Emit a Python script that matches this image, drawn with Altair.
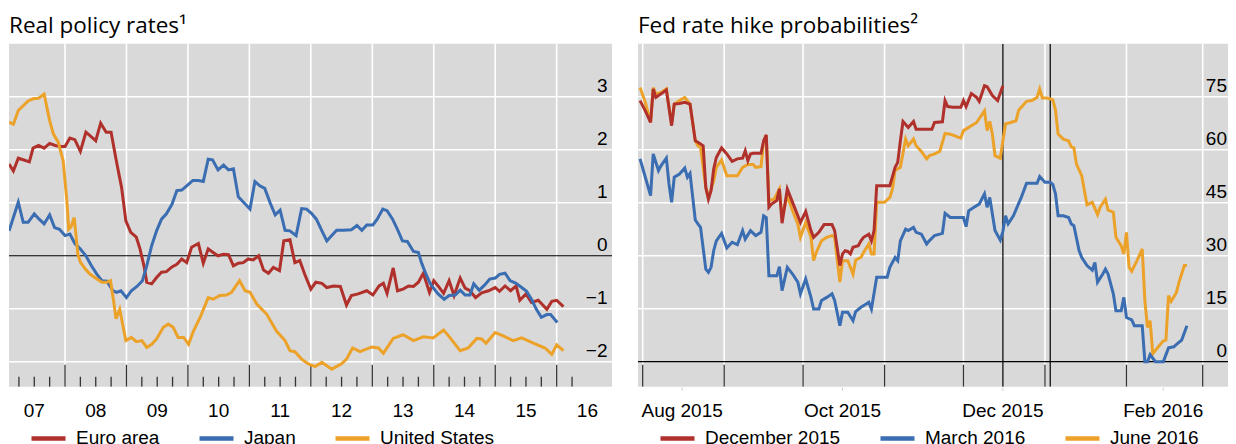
import altair as alt
import pandas as pd

# ---------------- common styling ----------------
RED, BLUE, GOLD = "#b0302b", "#3a6db1", "#eca229"
BG = "#d9d9d9"
LABEL_FONT = "Liberation Sans"
TITLE_FONT = "Open Sans"
W_L, W_R, H = 603, 590, 343

# ---------------- Left panel: real policy rates (%) ----------------
ea_t = [2007.09, 2007.16, 2007.24, 2007.32, 2007.42, 2007.48, 2007.57, 2007.66, 2007.75, 2007.84,
        2007.92, 2008.00, 2008.08, 2008.16, 2008.25, 2008.34, 2008.42, 2008.50, 2008.58, 2008.67,
        2008.75, 2008.83, 2008.92, 2008.99, 2009.07, 2009.16, 2009.22, 2009.29, 2009.33, 2009.41,
        2009.49, 2009.57, 2009.65, 2009.74, 2009.82, 2009.90, 2009.98, 2010.06, 2010.17, 2010.25,
        2010.33, 2010.41, 2010.49, 2010.58, 2010.66, 2010.74, 2010.82, 2010.90, 2010.98, 2011.06,
        2011.15, 2011.23, 2011.31, 2011.39, 2011.49, 2011.56, 2011.66, 2011.74, 2011.82, 2011.90,
        2012.00, 2012.08, 2012.18, 2012.26, 2012.37, 2012.48, 2012.58, 2012.66, 2012.77, 2012.91,
        2013.01, 2013.11, 2013.18, 2013.24, 2013.34, 2013.41, 2013.50, 2013.59, 2013.67, 2013.75,
        2013.83, 2013.93, 2014.00, 2014.07, 2014.16, 2014.25, 2014.33, 2014.43, 2014.51, 2014.59,
        2014.68, 2014.78, 2014.89, 2015.00, 2015.07, 2015.16, 2015.25, 2015.34, 2015.40, 2015.50,
        2015.59, 2015.70, 2015.84, 2015.92, 2016.00, 2016.11]
ea_v = [1.73, 1.60, 1.84, 1.81, 1.77, 2.03, 2.08, 2.03, 2.12, 2.08,
        2.06, 2.06, 2.22, 2.19, 1.97, 2.33, 2.25, 2.17, 2.50, 2.33,
        2.33, 1.82, 1.29, 0.66, 0.44, 0.35, 0.13, -0.22, -0.50, -0.53,
        -0.41, -0.31, -0.30, -0.21, -0.16, -0.06, -0.13, 0.16, 0.23, -0.14,
        0.13, 0.06, 0.00, 0.03, 0.02, -0.19, -0.14, -0.13, -0.06, -0.08,
        0.00, -0.27, -0.33, -0.22, -0.28, 0.28, 0.30, -0.13, -0.09, -0.35,
        -0.63, -0.50, -0.52, -0.60, -0.57, -0.58, -0.93, -0.75, -0.72, -0.66,
        -0.74, -0.57, -0.52, -0.71, -0.23, -0.66, -0.63, -0.57, -0.58, -0.50,
        -0.33, -0.69, -0.47, -0.57, -0.71, -0.47, -0.75, -0.42, -0.61, -0.66,
        -0.79, -0.70, -0.66, -0.60, -0.67, -0.57, -0.66, -0.57, -0.84, -0.72,
        -0.88, -0.84, -1.01, -0.86, -0.84, -0.96]

jp_t = [2007.09, 2007.16, 2007.24, 2007.32, 2007.40, 2007.50, 2007.58, 2007.66, 2007.75, 2007.83,
        2007.91, 2008.00, 2008.08, 2008.16, 2008.24, 2008.34, 2008.43, 2008.52, 2008.60, 2008.68,
        2008.78, 2008.84, 2008.91, 2009.00, 2009.08, 2009.17, 2009.26, 2009.33, 2009.41, 2009.49,
        2009.57, 2009.65, 2009.74, 2009.82, 2009.90, 2009.98, 2010.08, 2010.17, 2010.25, 2010.33,
        2010.40, 2010.49, 2010.58, 2010.66, 2010.74, 2010.82, 2010.92, 2011.01, 2011.09, 2011.17,
        2011.25, 2011.34, 2011.42, 2011.50, 2011.58, 2011.66, 2011.76, 2011.85, 2011.93, 2012.01,
        2012.09, 2012.18, 2012.26, 2012.34, 2012.42, 2012.53, 2012.66, 2012.75, 2012.83, 2012.91,
        2013.01, 2013.08, 2013.17, 2013.24, 2013.33, 2013.42, 2013.49, 2013.57, 2013.67, 2013.75,
        2013.80, 2013.86, 2013.94, 2013.99, 2014.07, 2014.17, 2014.25, 2014.35, 2014.43, 2014.51,
        2014.59, 2014.65, 2014.74, 2014.83, 2014.91, 2015.00, 2015.07, 2015.16, 2015.24, 2015.34,
        2015.43, 2015.51, 2015.59, 2015.67, 2015.75, 2015.84, 2015.90, 2016.01]
jp_v = [0.47, 0.72, 1.01, 0.63, 0.63, 0.79, 0.69, 0.60, 0.77, 0.53,
        0.50, 0.38, 0.41, 0.23, 0.14, 0.00, -0.19, -0.35, -0.47, -0.48,
        -0.66, -0.69, -0.66, -0.79, -0.66, -0.58, -0.47, -0.19, 0.19, 0.47,
        0.69, 0.79, 0.97, 1.23, 1.24, 1.32, 1.42, 1.42, 1.40, 1.82,
        1.81, 1.62, 1.71, 1.62, 1.64, 1.11, 0.99, 0.88, 1.40, 1.32,
        1.27, 0.99, 0.77, 0.86, 0.48, 0.47, 0.38, 0.89, 0.88, 0.80,
        0.69, 0.47, 0.28, 0.38, 0.48, 0.48, 0.49, 0.57, 0.48, 0.58,
        0.58, 0.69, 0.88, 0.85, 0.69, 0.47, 0.28, 0.27, 0.08, 0.06,
        -0.13, -0.31, -0.52, -0.60, -0.72, -0.82, -0.75, -0.74, -0.65, -0.74,
        -0.74, -0.53, -0.65, -0.55, -0.44, -0.42, -0.35, -0.33, -0.47, -0.52,
        -0.60, -0.67, -0.82, -1.01, -1.16, -1.11, -1.11, -1.26]

us_t = [2007.09, 2007.16, 2007.24, 2007.32, 2007.40, 2007.48, 2007.57, 2007.66, 2007.75, 2007.81,
        2007.89, 2007.97, 2008.03, 2008.06, 2008.10, 2008.15, 2008.21, 2008.25, 2008.33, 2008.41,
        2008.52, 2008.60, 2008.68, 2008.74, 2008.79, 2008.83, 2008.89, 2008.99, 2009.08, 2009.16,
        2009.25, 2009.33, 2009.41, 2009.49, 2009.60, 2009.68, 2009.76, 2009.84, 2009.93, 2010.01,
        2010.09, 2010.20, 2010.33, 2010.41, 2010.52, 2010.63, 2010.71, 2010.84, 2010.93, 2011.01,
        2011.12, 2011.28, 2011.44, 2011.58, 2011.66, 2011.74, 2011.85, 2011.96, 2012.07, 2012.18,
        2012.34, 2012.50, 2012.58, 2012.68, 2012.80, 2012.99, 2013.10, 2013.18, 2013.34, 2013.50,
        2013.67, 2013.83, 2013.99, 2014.16, 2014.26, 2014.43, 2014.56, 2014.70, 2014.78, 2014.85,
        2015.00, 2015.13, 2015.29, 2015.43, 2015.62, 2015.81, 2015.92, 2016.00, 2016.11]
us_v = [2.52, 2.48, 2.74, 2.83, 2.92, 2.96, 2.97, 3.05, 2.55, 2.30,
        2.14, 1.79, 1.04, 0.50, 0.55, 0.72, 0.02, -0.12, -0.25, -0.35,
        -0.44, -0.50, -0.50, -0.47, -0.85, -1.19, -1.01, -1.60, -1.54, -1.62,
        -1.60, -1.73, -1.67, -1.57, -1.35, -1.29, -1.35, -1.54, -1.54, -1.67,
        -1.42, -1.16, -0.79, -0.82, -0.75, -0.74, -0.69, -0.47, -0.66, -0.69,
        -0.91, -1.10, -1.42, -1.60, -1.79, -1.81, -1.95, -2.04, -2.09, -2.01,
        -2.14, -2.04, -1.95, -1.74, -1.81, -1.72, -1.74, -1.84, -1.56, -1.49,
        -1.60, -1.53, -1.55, -1.40, -1.54, -1.79, -1.74, -1.56, -1.57, -1.65,
        -1.45, -1.51, -1.60, -1.55, -1.65, -1.74, -1.86, -1.68, -1.79]

left_title = "Real policy rates¹"
left_names = ["Euro area", "Japan", "United States"]
left_colors = [RED, BLUE, GOLD]
left_yticks = [-2, -1, 0, 1, 2, 3]
left_ylabels = ["\u22122", "\u22121", "0", "1", "2", "3"]
left_year_starts = [2008, 2009, 2010, 2011, 2012, 2013, 2014, 2015, 2016]
left_quarters = [2007.25, 2007.5, 2007.75, 2008.25, 2008.5, 2008.75, 2009.25, 2009.5, 2009.75,
                 2010.25, 2010.5, 2010.75, 2011.25, 2011.5, 2011.75, 2012.25, 2012.5, 2012.75,
                 2013.25, 2013.5, 2013.75, 2014.25, 2014.5, 2014.75, 2015.25, 2015.5, 2015.75,
                 2016.25]
left_label_pos = [2007.5, 2008.5, 2009.5, 2010.5, 2011.5, 2012.5, 2013.5, 2014.5, 2015.5, 2016.5]
left_xlabels = ["07", "08", "09", "10", "11", "12", "13", "14", "15", "16"]

# ---------------- Right panel: Fed rate hike probabilities (%) ----------------
dec_d = ["2015-07-31", "2015-08-02", "2015-08-04", "2015-08-05", "2015-08-06", "2015-08-08",
         "2015-08-10", "2015-08-12", "2015-08-13", "2015-08-15", "2015-08-17", "2015-08-19",
         "2015-08-21", "2015-08-22", "2015-08-24", "2015-08-25", "2015-08-26", "2015-08-27",
         "2015-08-28", "2015-08-29", "2015-08-31", "2015-09-02", "2015-09-04", "2015-09-06",
         "2015-09-08", "2015-09-09", "2015-09-10", "2015-09-11", "2015-09-12", "2015-09-15",
         "2015-09-16", "2015-09-17", "2015-09-18", "2015-09-19", "2015-09-21", "2015-09-22",
         "2015-09-23", "2015-09-25", "2015-09-27", "2015-09-29", "2015-09-30", "2015-10-02",
         "2015-10-04", "2015-10-05", "2015-10-07", "2015-10-09", "2015-10-10", "2015-10-12",
         "2015-10-13", "2015-10-15", "2015-10-16", "2015-10-17", "2015-10-18", "2015-10-19",
         "2015-10-20", "2015-10-22", "2015-10-23", "2015-10-24", "2015-10-26", "2015-10-27",
         "2015-10-28", "2015-10-29", "2015-11-01", "2015-11-03", "2015-11-05", "2015-11-06",
         "2015-11-07", "2015-11-08", "2015-11-10", "2015-11-12", "2015-11-13", "2015-11-15",
         "2015-11-19", "2015-11-20", "2015-11-23", "2015-11-24", "2015-11-25", "2015-11-27",
         "2015-11-30", "2015-12-01", "2015-12-02", "2015-12-04", "2015-12-06", "2015-12-07",
         "2015-12-09", "2015-12-10", "2015-12-12", "2015-12-14", "2015-12-16"]
dec_v = [73.9, 71.0, 67.7, 77.2, 74.8, 75.8, 76.9, 66.8, 72.9, 73.1, 73.4, 72.9,
         62.5, 62.1, 61.1, 49.3, 46.0, 48.4, 54.5, 57.8, 60.5, 58.8, 56.7, 57.4,
         57.6, 59.7, 56.9, 58.8, 59.0, 59.0, 62.5, 64.2, 43.7, 44.6, 45.6, 48.9,
         39.2, 48.9, 45.1, 41.3, 39.4, 42.5, 37.1, 35.2, 36.6, 38.8, 38.8, 38.8,
         37.1, 27.2, 30.5, 31.4, 31.2, 30.5, 32.4, 32.8, 34.2, 35.2, 36.1, 34.2,
         37.1, 49.8, 49.8, 49.8, 55.0, 56.4, 62.5, 68.0, 66.3, 68.0, 65.8, 65.8,
         65.8, 67.7, 67.9, 73.9, 72.2, 72.0, 72.0, 73.9, 72.2, 75.9, 74.8, 73.7,
         78.1, 77.8, 75.3, 73.9, 78.1]

mar_d = ["2015-07-31", "2015-08-02", "2015-08-04", "2015-08-05", "2015-08-07", "2015-08-08",
         "2015-08-10", "2015-08-11", "2015-08-12", "2015-08-13", "2015-08-15", "2015-08-17",
         "2015-08-18", "2015-08-19", "2015-08-21", "2015-08-22", "2015-08-23", "2015-08-25",
         "2015-08-26", "2015-08-27", "2015-08-28", "2015-08-29", "2015-08-31", "2015-09-02",
         "2015-09-04", "2015-09-06", "2015-09-08", "2015-09-09", "2015-09-11", "2015-09-13",
         "2015-09-15", "2015-09-16", "2015-09-17", "2015-09-18", "2015-09-19", "2015-09-21",
         "2015-09-22", "2015-09-23", "2015-09-25", "2015-09-27", "2015-09-29", "2015-09-30",
         "2015-10-02", "2015-10-04", "2015-10-05", "2015-10-07", "2015-10-08", "2015-10-10",
         "2015-10-12", "2015-10-13", "2015-10-15", "2015-10-16", "2015-10-18", "2015-10-20",
         "2015-10-21", "2015-10-23", "2015-10-25", "2015-10-26", "2015-10-27", "2015-10-29",
         "2015-10-30", "2015-11-02", "2015-11-03", "2015-11-05", "2015-11-06", "2015-11-07",
         "2015-11-09", "2015-11-10", "2015-11-12", "2015-11-13", "2015-11-15", "2015-11-17",
         "2015-11-18", "2015-11-20", "2015-11-23", "2015-11-24", "2015-11-26", "2015-12-01",
         "2015-12-02", "2015-12-03", "2015-12-05", "2015-12-07", "2015-12-09", "2015-12-10",
         "2015-12-11", "2015-12-12", "2015-12-13", "2015-12-15", "2015-12-16", "2015-12-17",
         "2015-12-18", "2015-12-20", "2015-12-22", "2015-12-23", "2015-12-25", "2015-12-27",
         "2015-12-29", "2015-12-30", "2016-01-01", "2016-01-03", "2016-01-04", "2016-01-05",
         "2016-01-06", "2016-01-08", "2016-01-10", "2016-01-11", "2016-01-12", "2016-01-14",
         "2016-01-15", "2016-01-17", "2016-01-19", "2016-01-20", "2016-01-21", "2016-01-23",
         "2016-01-24", "2016-01-25", "2016-01-27", "2016-01-28", "2016-01-30", "2016-01-31",
         "2016-02-01", "2016-02-03", "2016-02-04", "2016-02-07", "2016-02-08", "2016-02-09",
         "2016-02-10", "2016-02-12", "2016-02-15", "2016-02-17", "2016-02-19", "2016-02-21",
         "2016-02-22", "2016-02-24"]
mar_v = [57.4, 52.2, 47.0, 58.8, 54.1, 55.5, 57.6, 50.3, 45.1, 52.2, 53.1, 54.8,
         52.2, 53.3, 40.1, 39.0, 38.0, 26.2, 25.3, 26.7, 31.4, 34.2, 36.3, 32.2,
         33.8, 33.1, 37.1, 34.7, 37.1, 35.7, 36.6, 41.3, 40.8, 24.3, 24.3, 24.3,
         26.9, 20.1, 26.7, 24.8, 22.5, 19.2, 23.4, 18.2, 14.9, 14.9, 17.3, 18.2,
         19.2, 17.3, 10.2, 14.0, 14.0, 11.6, 14.2, 15.4, 16.3, 16.8, 14.9, 23.9,
         23.9, 23.9, 26.7, 29.5, 28.6, 34.2, 37.5, 37.1, 38.0, 36.6, 36.1, 33.3,
         34.2, 35.7, 36.3, 42.0, 40.8, 40.8, 38.2, 42.7, 43.7, 44.6, 47.5, 43.7,
         46.5, 41.8, 37.1, 34.4, 36.9, 41.3, 39.0, 41.3, 44.8, 46.5, 50.5, 50.5,
         50.5, 52.4, 50.8, 50.8, 50.1, 47.5, 41.3, 41.3, 40.8, 39.0, 38.5, 31.4,
         29.5, 27.2, 25.9, 28.1, 22.5, 24.8, 26.2, 24.8, 19.2, 14.4, 14.4, 18.2,
         12.5, 11.8, 10.2, 10.2, 0.0, 0.0, 2.0, 0.0, 0.0, 3.9, 4.2, 5.5,
         6.1, 10.2]

jun_d = ["2015-07-31", "2015-08-02", "2015-08-04", "2015-08-05", "2015-08-06", "2015-08-08",
         "2015-08-10", "2015-08-12", "2015-08-13", "2015-08-15", "2015-08-17", "2015-08-19",
         "2015-08-21", "2015-08-22", "2015-08-23", "2015-08-25", "2015-08-26", "2015-08-28",
         "2015-08-29", "2015-08-31", "2015-09-02", "2015-09-04", "2015-09-06", "2015-09-08",
         "2015-09-10", "2015-09-12", "2015-09-13", "2015-09-15", "2015-09-16", "2015-09-17",
         "2015-09-18", "2015-09-20", "2015-09-22", "2015-09-23", "2015-09-25", "2015-09-27",
         "2015-09-29", "2015-09-30", "2015-10-02", "2015-10-04", "2015-10-05", "2015-10-06",
         "2015-10-08", "2015-10-10", "2015-10-12", "2015-10-13", "2015-10-15", "2015-10-16",
         "2015-10-18", "2015-10-20", "2015-10-21", "2015-10-23", "2015-10-24", "2015-10-26",
         "2015-10-27", "2015-10-28", "2015-10-29", "2015-11-01", "2015-11-03", "2015-11-04",
         "2015-11-05", "2015-11-07", "2015-11-09", "2015-11-10", "2015-11-12", "2015-11-13",
         "2015-11-15", "2015-11-17", "2015-11-18", "2015-11-20", "2015-11-22", "2015-11-24",
         "2015-11-26", "2015-11-30", "2015-12-01", "2015-12-04", "2015-12-06", "2015-12-09",
         "2015-12-10", "2015-12-11", "2015-12-12", "2015-12-13", "2015-12-15", "2015-12-16",
         "2015-12-17", "2015-12-19", "2015-12-21", "2015-12-22", "2015-12-23", "2015-12-25",
         "2015-12-27", "2015-12-29", "2015-12-30", "2015-12-31", "2016-01-02", "2016-01-04",
         "2016-01-05", "2016-01-06", "2016-01-08", "2016-01-10", "2016-01-11", "2016-01-12",
         "2016-01-13", "2016-01-15", "2016-01-16", "2016-01-17", "2016-01-19", "2016-01-21",
         "2016-01-22", "2016-01-24", "2016-01-25", "2016-01-27", "2016-01-28", "2016-01-30",
         "2016-01-31", "2016-02-01", "2016-02-02", "2016-02-03", "2016-02-05", "2016-02-07",
         "2016-02-08", "2016-02-09", "2016-02-10", "2016-02-11", "2016-02-13", "2016-02-15",
         "2016-02-16", "2016-02-17", "2016-02-18", "2016-02-20", "2016-02-21", "2016-02-23",
         "2016-02-24"]
jun_v = [77.6, 73.4, 67.7, 77.6, 75.8, 76.2, 77.2, 67.3, 72.9, 73.9, 74.8, 72.9,
         62.5, 61.1, 60.7, 49.3, 46.5, 51.2, 55.0, 57.1, 52.6, 52.6, 52.6, 55.0,
         55.8, 55.8, 55.0, 55.2, 62.5, 64.0, 45.6, 46.0, 48.9, 40.8, 47.0, 42.7,
         39.0, 35.2, 39.4, 35.2, 28.6, 30.9, 34.2, 35.2, 35.7, 35.2, 22.5, 28.6,
         28.6, 24.8, 28.8, 29.5, 30.9, 33.3, 30.5, 30.5, 45.1, 45.1, 46.5, 48.9,
         54.1, 55.0, 63.0, 61.1, 63.0, 61.1, 59.5, 57.4, 58.3, 58.8, 59.5, 64.6,
         64.4, 63.3, 65.4, 66.8, 67.7, 71.0, 65.4, 68.0, 64.4, 58.3, 57.6, 62.5,
         67.3, 67.7, 68.2, 71.2, 72.0, 73.7, 73.9, 74.8, 77.2, 74.6, 74.6, 74.1,
         71.2, 64.4, 63.0, 62.5, 60.8, 60.5, 55.9, 52.6, 48.4, 44.4, 45.1, 41.6,
         43.7, 46.0, 42.9, 42.3, 35.2, 32.8, 30.5, 36.6, 26.7, 25.6, 28.6, 31.9,
         17.3, 9.7, 11.6, 2.2, 4.1, 5.9, 6.1, 18.7, 17.1, 19.6, 22.5, 27.2,
         27.2]

right_title = "Fed rate hike probabilities²"
right_names = ["December 2015", "March 2016", "June 2016"]
right_colors = [RED, BLUE, GOLD]
right_yticks = [0, 15, 30, 45, 60, 75]
right_ylabels = ["0", "15", "30", "45", "60", "75"]
month_starts = ["2015-08-01", "2015-09-01", "2015-10-01", "2015-11-01", "2015-12-01",
                "2016-01-01", "2016-02-01", "2016-03-01"]
event_dates = ["2015-12-16", "2016-01-03"]
right_label_dates = ["2015-08-16", "2015-10-16", "2015-12-16", "2016-02-15"]
right_xlabels = ["Aug 2015", "Oct 2015", "Dec 2015", "Feb 2016"]


def dt(s, hours=0, minutes=0):
    y, m, d = (int(p) for p in s.split("-"))
    return alt.DateTime(year=y, month=m, date=d, hours=hours, minutes=minutes, utc=True)


legend_common = dict(orient="none", direction="horizontal", title=None, symbolType="stroke",
                     symbolSize=1156, symbolStrokeWidth=4.5, labelFont=LABEL_FONT,
                     labelFontSize=19, labelColor="black", labelOffset=8, labelLimit=400,
                     columnPadding=30, legendX=20, legendY=375)


def title_layer(text):
    return alt.Chart(pd.DataFrame({"txt": [text]})).mark_text(
        align="left", baseline="alphabetic", font=TITLE_FONT, fontSize=22.5, color="black"
    ).encode(text="txt:N", x=alt.value(0), y=alt.value(-10.6))


def label_text(**kw):
    return dict(font=LABEL_FONT, fontSize=19, color="black", baseline="alphabetic", **kw)


def rule(**kw):
    return dict(clip=True, **kw)


# ---------------- Left chart ----------------
dfL = pd.concat([
    pd.DataFrame({"t": ea_t, "v": ea_v, "s": "Euro area"}),
    pd.DataFrame({"t": jp_t, "v": jp_v, "s": "Japan"}),
    pd.DataFrame({"t": us_t, "v": us_v, "s": "United States"}),
], ignore_index=True)

xL = alt.Scale(domain=[2007.089, 2016.9], nice=False, zero=False)
yL = alt.Scale(domain=[-2.47, 4.0], nice=False, zero=False)
XL = alt.X("t:Q", scale=xL, axis=None)
YL = alt.Y("v:Q", scale=yL, axis=None)
legL = alt.Legend(**legend_common)

hgridL = alt.Chart(pd.DataFrame({"v": [t for t in left_yticks if t != 0]})).mark_rule(
    **rule(color="white", strokeWidth=1.6)).encode(y=YL, x=alt.value(0), x2=alt.value(W_L))
vgridL = alt.Chart(pd.DataFrame({"t": left_year_starts})).mark_rule(
    **rule(color="white", strokeWidth=1.6)).encode(x=XL)
zeroL = alt.Chart(pd.DataFrame({"v": [0]})).mark_rule(**rule(color="black", strokeWidth=1.2)).encode(
    y=YL, x=alt.value(0), x2=alt.value(W_L))
majorL = alt.Chart(pd.DataFrame({"t": left_year_starts})).mark_rule(
    **rule(color="#333333", strokeWidth=1.3)).encode(x=XL, y=alt.value(H - 22), y2=alt.value(H))
minorL = alt.Chart(pd.DataFrame({"t": left_quarters})).mark_rule(
    **rule(color="#333333", strokeWidth=1.3)).encode(x=XL, y=alt.value(H - 10), y2=alt.value(H))
ylabL = alt.Chart(pd.DataFrame({"v": left_yticks, "lab": left_ylabels})).mark_text(
    **label_text(align="right", dy=-5)).encode(y=YL, x=alt.value(W_L - 4.5), text="lab:N")
xlabL = alt.Chart(pd.DataFrame({"t": left_label_pos, "lab": left_xlabels})).mark_text(
    **label_text(align="center")).encode(x=XL, y=alt.value(H + 30.5), text="lab:N")
linesL = alt.Chart(dfL).mark_line(strokeWidth=3, clip=True).encode(
    x=XL, y=YL,
    color=alt.Color("s:N", scale=alt.Scale(domain=left_names, range=left_colors), legend=legL),
)

left = alt.layer(hgridL, vgridL, zeroL, majorL, minorL, ylabL, xlabL, linesL,
                 title_layer(left_title)).properties(width=W_L, height=H)

# ---------------- Right chart ----------------
dfR = pd.concat([
    pd.DataFrame({"d": jun_d, "v": jun_v, "s": "June 2016"}),
    pd.DataFrame({"d": mar_d, "v": mar_v, "s": "March 2016"}),
    pd.DataFrame({"d": dec_d, "v": dec_v, "s": "December 2015"}),
], ignore_index=True)

xR = alt.Scale(type="utc", domain=[dt("2015-07-30", 5, 6), dt("2016-03-10", 14, 42)], nice=False)
yR = alt.Scale(domain=[-7.08, 90.0], nice=False, zero=False)
XR = alt.X("d:T", scale=xR, axis=None)
YR = alt.Y("v:Q", scale=yR, axis=None)
legR = alt.Legend(**legend_common)

hgridR = alt.Chart(pd.DataFrame({"v": [t for t in right_yticks if t != 0]})).mark_rule(
    **rule(color="white", strokeWidth=1.6)).encode(y=YR, x=alt.value(0), x2=alt.value(W_R))
vgridR = alt.Chart(pd.DataFrame({"d": month_starts})).mark_rule(
    **rule(color="white", strokeWidth=1.6)).encode(x=XR)
zeroR = alt.Chart(pd.DataFrame({"v": [0]})).mark_rule(**rule(color="black", strokeWidth=1.2)).encode(
    y=YR, x=alt.value(0), x2=alt.value(W_R))
majorR = alt.Chart(pd.DataFrame({"d": month_starts})).mark_rule(
    **rule(color="#333333", strokeWidth=1.3)).encode(x=XR, y=alt.value(H - 22), y2=alt.value(H))
labelTicksR = alt.Chart(pd.DataFrame({"d": right_label_dates})).mark_rule(
    color="#cccccc", strokeWidth=1).encode(x=XR, y=alt.value(H + 1), y2=alt.value(H + 4))
eventsR = alt.Chart(pd.DataFrame({"d": event_dates})).mark_rule(
    **rule(color="black", strokeWidth=1.2)).encode(x=XR)
ylabR = alt.Chart(pd.DataFrame({"v": right_yticks, "lab": right_ylabels})).mark_text(
    **label_text(align="right", dy=-5)).encode(y=YR, x=alt.value(W_R - 1), text="lab:N")
xlabR = alt.Chart(pd.DataFrame({"d": right_label_dates, "lab": right_xlabels})).mark_text(
    **label_text(align="center")).encode(x=XR, y=alt.value(H + 30.5), text="lab:N")
linesR = alt.Chart(dfR).mark_line(strokeWidth=3, clip=True).encode(
    x=XR, y=YR,
    color=alt.Color("s:N", scale=alt.Scale(domain=right_names, range=right_colors), legend=legR),
)

right = alt.layer(hgridR, vgridR, zeroR, majorR, labelTicksR, eventsR, ylabR, xlabR, linesR,
                  title_layer(right_title)).properties(width=W_R, height=H)

chart = alt.hconcat(left, right, spacing=26).resolve_scale(color="independent").configure_view(
    fill=BG, strokeWidth=0
).properties(padding={"left": 1, "top": 6.7, "right": 0, "bottom": 0})

chart.save("out.html", embed_options={"renderer": "svg", "actions": False})
